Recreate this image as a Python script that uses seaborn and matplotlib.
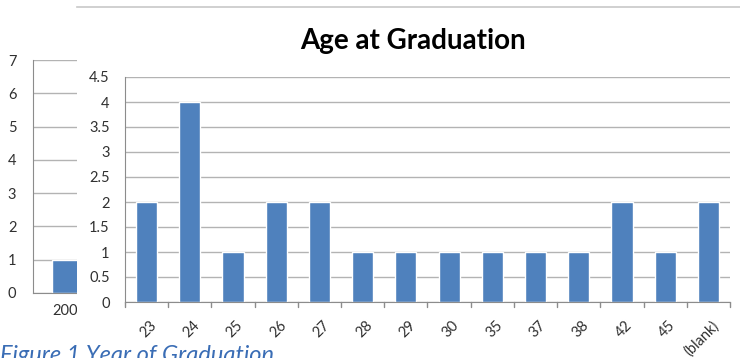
import pandas as pd
import seaborn as sns
import matplotlib
matplotlib.use("Agg")
from matplotlib import pyplot as plt
from matplotlib.transforms import ScaledTranslation

# data
ages = ['23', '24', '25', '26', '27', '28', '29', '30', '35', '37', '38', '42', '45', '(blank)']
age_counts = [2, 4, 1, 2, 2, 1, 1, 1, 1, 1, 1, 2, 1, 2]
years = ['2009']          # only "200" is visible behind the front chart
year_counts = [1]

bar_blue = '#4f81bd'
grid_grey = '#b3b3b3'
text_grey = '#303030'

sns.set_style("white")
plt.rcParams['font.family'] = ['Lato', 'DejaVu Sans']

W, H = 740, 358
fig = plt.figure(figsize=(W / 100, H / 100), dpi=100)

def px_box(x0, y0, x1, y1):
    # pixel box (top-left origin) -> figure fraction rect
    return [x0 / W, (H - y1) / H, (x1 - x0) / W, (y1 - y0) / H]

# chart in the background (Year of Graduation), mostly hidden
ax0 = fig.add_axes(px_box(33, 60, 179, 293))
year_df = pd.DataFrame({'year': years, 'count': year_counts})
sns.barplot(data=year_df, x='year', y='count', color=bar_blue, width=0.48,
            saturation=1, ax=ax0)
ax0.set_xlim(-0.5, 1.5)
ax0.set_ylim(0, 7)
ax0.set_yticks(range(0, 8))
ax0.set_xlabel('')
ax0.set_ylabel('')
ax0.yaxis.grid(True, color=grid_grey, lw=1)
ax0.set_axisbelow(True)
for s in ['top', 'right']:
    ax0.spines[s].set_visible(False)
for s in ['left', 'bottom']:
    ax0.spines[s].set_color('#8c8c8c')
ax0.tick_params(axis='y', length=5, color='#8c8c8c', labelsize=10.5, labelcolor=text_grey, pad=7)
ax0.tick_params(axis='x', length=0, labelsize=10.5, labelcolor=text_grey, pad=8)
ax0.set_zorder(0)

# white panel of the front chart
panel = fig.add_axes(px_box(77, 7, 740, 358))
panel.set_xticks([])
panel.set_yticks([])
for s in ['left', 'right', 'bottom']:
    panel.spines[s].set_visible(False)
panel.spines['top'].set_color('#c8c8c8')
panel.spines['top'].set_linewidth(1.2)
panel.set_facecolor('white')
panel.set_zorder(1)

# front chart: Age at Graduation
ax = fig.add_axes(px_box(125, 77, 730, 302))
age_df = pd.DataFrame({'age': ages, 'count': age_counts})
sns.barplot(data=age_df, x='age', y='count', color=bar_blue, width=0.49,
            saturation=1, ax=ax)
ax.set_xlim(-0.5, len(ages) - 0.5)
ax.set_ylim(0, 4.5)
ax.set_yticks([i * 0.5 for i in range(10)])
ax.set_yticklabels(['0', '0.5', '1', '1.5', '2', '2.5', '3', '3.5', '4', '4.5'])
ax.set_xlabel('')
ax.set_ylabel('')
ax.yaxis.grid(True, color=grid_grey, lw=1)
ax.set_axisbelow(True)
ax.patch.set_alpha(0)
for s in ['top', 'right']:
    ax.spines[s].set_visible(False)
for s in ['left', 'bottom']:
    ax.spines[s].set_color('#8c8c8c')
ax.tick_params(axis='y', length=5, color='#8c8c8c', labelsize=10.5, labelcolor=text_grey, pad=6)
ax.tick_params(axis='x', length=0, labelsize=10.5, labelcolor=text_grey, pad=0)
ax.set_xticks(range(len(ages)))
ax.set_xticklabels(ages, rotation=45, ha='right', rotation_mode='anchor')
shift = ScaledTranslation(3 / 100, -16 / 100, fig.dpi_scale_trans)
for lab in ax.get_xticklabels():
    lab.set_transform(lab.get_transform() + shift)
# tick marks between categories
for i in range(len(ages) + 1):
    ax.plot([i - 0.5, i - 0.5], [0, -0.1], color='#8c8c8c', lw=1, clip_on=False)
ax.set_zorder(2)

fig.text(413 / W, (H - 41) / H, 'Age at Graduation', fontsize=20, fontweight='bold',
         color='black', ha='center', va='center', zorder=5)

# caption of the figure behind, cut by the bottom edge as in the source
fig.text(0, (H - 345) / H, 'Figure 1 Year of Graduation', fontsize=17, fontstyle='italic',
         color='#3a6db5', ha='left', va='top', zorder=5)

fig.savefig('out.png', dpi=100)
